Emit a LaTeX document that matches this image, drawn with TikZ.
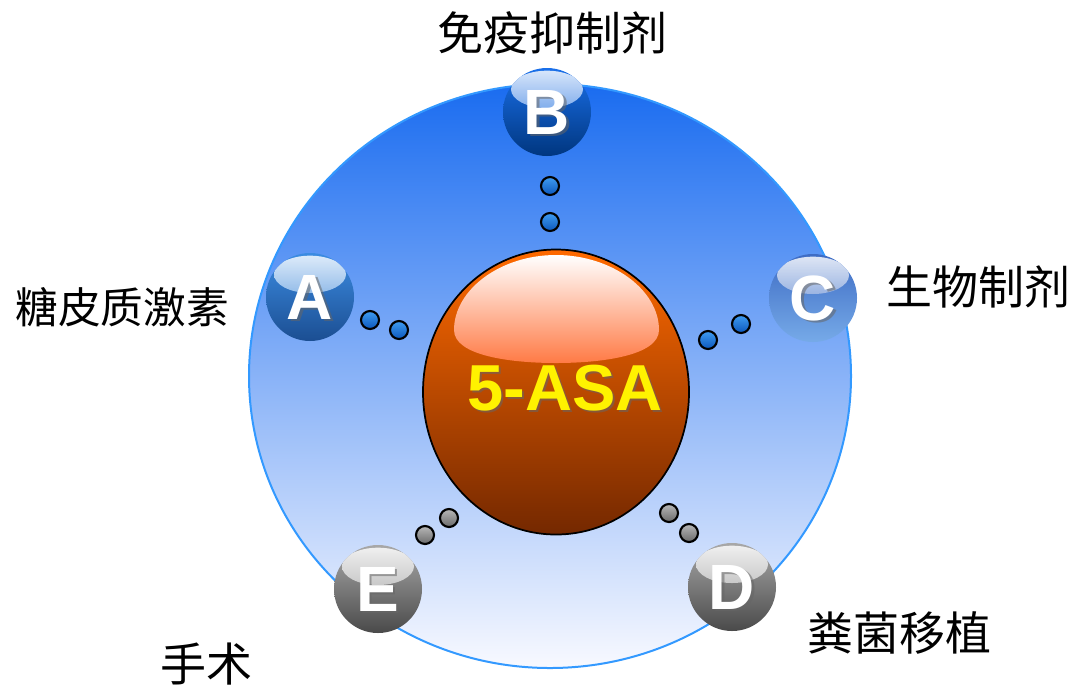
\documentclass[tikz,border=0pt]{standalone}
\usepackage{fontspec}
\setmainfont{Liberation Sans}
\newfontfamily\cjk{Noto Sans CJK SC}
\usetikzlibrary{shapes.geometric}
\definecolor{ringtop}{HTML}{1A6CF0}
\definecolor{ringmid}{HTML}{86A4F3}
\definecolor{ringbot}{HTML}{F8F9FF}
\definecolor{ringline}{HTML}{3399FF}
\definecolor{sphtop}{HTML}{FF6A00}
\definecolor{sphmid}{HTML}{C24C00}
\definecolor{sphbot}{HTML}{742800}
\definecolor{sphhl}{HTML}{FF7A45}
\definecolor{Atop}{HTML}{3C8CE2}
\definecolor{Amid}{HTML}{2A74CA}
\definecolor{Abot}{HTML}{1B4E92}
\definecolor{Btop}{HTML}{1A70EA}
\definecolor{Bmid}{HTML}{0A58C4}
\definecolor{Bbot}{HTML}{00367F}
\definecolor{Ctop}{HTML}{3E6CC4}
\definecolor{Cmid}{HTML}{5586D6}
\definecolor{Cbot}{HTML}{76AAE8}
\definecolor{Gtop}{HTML}{A8A8A8}
\definecolor{Gmid}{HTML}{7E7E7E}
\definecolor{Gbot}{HTML}{4A4A4A}
\definecolor{dotbtop}{HTML}{3F9CF2}
\definecolor{dotbbot}{HTML}{0C57BC}
\definecolor{dotgtop}{HTML}{B8B8B8}
\definecolor{dotgbot}{HTML}{6A6A6A}
\tikzset{
  ball/.style n args={3}{circle, inner sep=0pt, minimum size=66pt,
    top color=#1, middle color=#2, bottom color=#3,
    path picture={\shade[top color=white, bottom color=#1, opacity=0.85]
      ([yshift=17pt]path picture bounding box.center) ellipse [x radius=27pt, y radius=14pt];}},
  letter/.style={text=white, font=\fontsize{48}{52}\selectfont\bfseries, inner sep=0pt},
  lettersh/.style={text=black!60, opacity=0.55, font=\fontsize{48}{52}\selectfont\bfseries, inner sep=0pt},
  bdot/.style={circle, inner sep=0pt, minimum size=13.5pt, draw=black, line width=1.6pt,
    top color=dotbtop, bottom color=dotbbot},
  gdot/.style={circle, inner sep=0pt, minimum size=13.5pt, draw=black, line width=1.6pt,
    top color=dotgtop, bottom color=dotgbot},
  lbl/.style={text=black, font=\cjk\fontsize{34.5}{40}\selectfont, inner sep=0pt}
}
\begin{document}
\begin{tikzpicture}[x=0.75pt,y=-0.75pt]
\useasboundingbox (0,0) rectangle (1084,687);
% outer ring
\node[ellipse, minimum width=451.5pt, minimum height=438pt, inner sep=0pt,
  top color=ringtop, middle color=ringmid, bottom color=ringbot,
  draw=ringline, line width=1.5pt] (ring) at (550,376) {};
% central sphere
\node[ellipse, minimum width=199.5pt, minimum height=213.75pt, inner sep=0pt,
  top color=sphtop, middle color=sphmid, bottom color=sphbot,
  draw=black, line width=1.3pt] (core) at (556,392) {};
\shade[top color=white, bottom color=sphhl]
  (454,330) .. controls (454,290) and (500,255) .. (556,255)
  .. controls (612,255) and (659,290) .. (659,330)
  .. controls (659,356) and (600,363) .. (556,363)
  .. controls (512,363) and (454,356) .. (454,330) -- cycle;
\node[text=black!60, opacity=0.55, font=\fontsize{48.75}{52}\selectfont\bfseries, inner sep=0pt]
  (coresh) at (567,390) {5-ASA};
\node[text=yellow, font=\fontsize{48.75}{52}\selectfont\bfseries, inner sep=0pt] (coretxt) at (565,388) {5-ASA};
% balls
\node[ball={Atop}{Amid}{Abot}] (A) at (310,297) {};
\node[ball={Btop}{Bmid}{Bbot}] (B) at (547,112) {};
\node[ball={Ctop}{Cmid}{Cbot}] (C) at (813,298) {};
\node[ball={Gtop}{Gmid}{Gbot}] (D) at (732,587) {};
\node[ball={Gtop}{Gmid}{Gbot}] (E) at (378,589) {};
\foreach \n in {A,B,C,D,E}{
  \node[lettersh] (s\n) at ([xshift=1.6pt, yshift=-1.6pt]\n) {\n};
  \node[letter] (t\n) at (\n) {\n};
}
% dots
\node[bdot] (a1) at (370,320) {};
\node[bdot] (a2) at (399,330) {};
\node[bdot] (b1) at (550,186) {};
\node[bdot] (b2) at (550,222) {};
\node[bdot] (c1) at (741,324) {};
\node[bdot] (c2) at (708,340) {};
\node[gdot] (d1) at (669,513) {};
\node[gdot] (d2) at (689,533) {};
\node[gdot] (e1) at (449,518) {};
\node[gdot] (e2) at (425,535) {};
% labels
\node[lbl, font=\cjk\fontsize{32}{38}\selectfont] (lA) at (122,307) {糖皮质激素};
\node[lbl] (lB) at (552,33) {免疫抑制剂};
\node[lbl] (lC) at (978,287) {生物制剂};
\node[lbl] (lD) at (899,633) {粪菌移植};
\node[lbl] (lE) at (206,664) {手术};
\end{tikzpicture}
\end{document}
